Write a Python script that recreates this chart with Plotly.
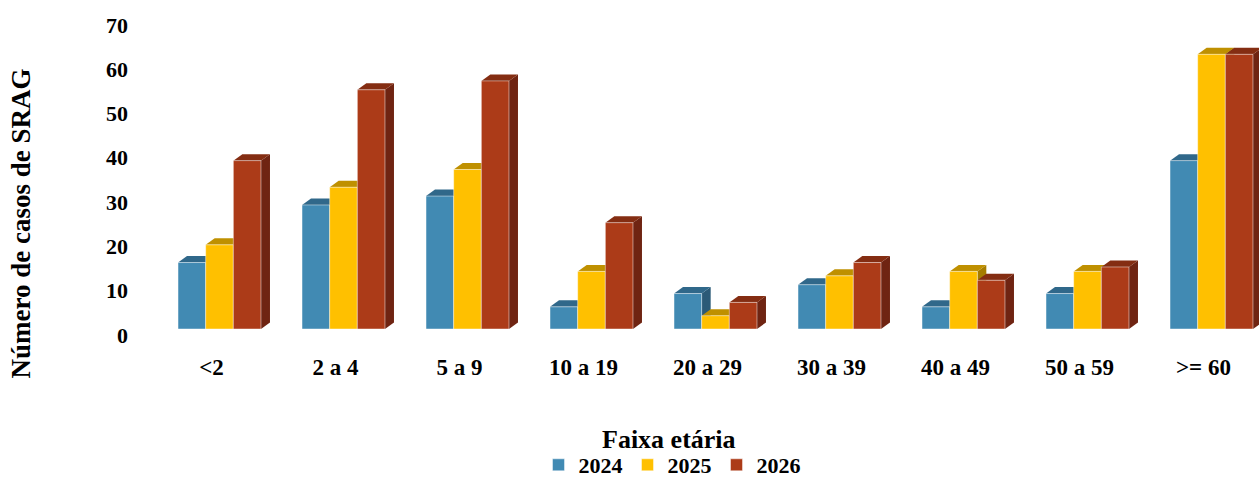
import plotly.graph_objects as go

# Age groups and SRAG case counts per year
faixas = ["<2", "2 a 4", "5 a 9", "10 a 19", "20 a 29", "30 a 39", "40 a 49", "50 a 59", ">= 60"]
casos_2024 = [15, 28, 30, 5, 8, 10, 5, 8, 38]
casos_2025 = [19, 32, 36, 13, 3, 12, 13, 13, 62]
casos_2026 = [38, 54, 56, 24, 6, 15, 11, 14, 62]
anos = ["2024", "2025", "2026"]
y_ticks = [0, 10, 20, 30, 40, 50, 60, 70]

series = [casos_2024, casos_2025, casos_2026]
front_colors = ["#418AB3", "#FFC000", "#AC3B18"]
top_colors = ["#30688A", "#BF9000", "#842D12"]
side_colors = ["#2B5A77", "#A67C00", "#6F2412"]

FONT = "Liberation Serif, Times New Roman, serif"

# layout geometry (pixels)
W, H = 1259, 478
ML, MT, MB = 140, 10, 149
plot_w = W - ML
plot_h = H - MT - MB
px_per_cat = 124.0
y_max = 72.0
px_per_unit = plot_h / y_max
x_start = -(219.5 - ML) / px_per_cat
x_end = x_start + plot_w / px_per_cat

# bar geometry in data units
group_w = 0.669
bar_w = group_w / 3
depth_dx = 9.0 / px_per_cat      # oblique depth, horizontal part
depth_dy = 6.5 / px_per_unit     # oblique depth, vertical part

fig = go.Figure()
x_idx = list(range(len(faixas)))

for k, (ano, vals) in enumerate(zip(anos, series)):
    fig.add_trace(go.Bar(
        x=x_idx, y=vals, name=ano,
        width=bar_w, offset=-group_w / 2 + k * bar_w,
        marker=dict(color=front_colors[k], line=dict(color="rgba(255,255,255,0.45)", width=1)),
        hovertext=[f"{f}: {v}" for f, v in zip(faixas, vals)],
        hoverinfo="text+name",
    ))

# side and top faces for the 3D look, painted left to right under the front faces
shapes = []
for i in x_idx:
    for k, vals in enumerate(series):
        v = vals[i]
        xl = i - group_w / 2 + k * bar_w
        xr = xl + bar_w
        side = (f"M{xr},0 L{xr + depth_dx},{depth_dy} L{xr + depth_dx},{v + depth_dy} "
                f"L{xr},{v} Z")
        top = (f"M{xl},{v} L{xr},{v} L{xr + depth_dx},{v + depth_dy} "
               f"L{xl + depth_dx},{v + depth_dy} Z")
        shapes.append(dict(type="path", path=side, xref="x", yref="y", layer="below",
                           fillcolor=side_colors[k], line=dict(width=0)))
        shapes.append(dict(type="path", path=top, xref="x", yref="y", layer="below",
                           fillcolor=top_colors[k], line=dict(width=0)))


def paper_x(px):
    return (px - ML) / plot_w


def paper_y(py):
    return (H - MB - py) / plot_h


fig.update_layout(
    width=W, height=H,
    margin=dict(l=ML, r=0, t=MT, b=MB, pad=0, autoexpand=False),
    plot_bgcolor="white", paper_bgcolor="white",
    barmode="overlay",
    shapes=shapes,
    font=dict(family=FONT, color="black", weight="bold"),
    xaxis=dict(
        type="linear", range=[x_start, x_end], automargin=False,
        tickmode="array", tickvals=x_idx, ticktext=faixas,
        showgrid=False, zeroline=False, showline=False,
        tickfont=dict(family=FONT, size=23, color="black", weight="bold"),
        ticklabelstandoff=22, ticklabelshift=-8,
    ),
    yaxis=dict(
        range=[0, y_max], tickmode="array", tickvals=y_ticks, automargin=False,
        showgrid=False, zeroline=False, showline=False,
        tickfont=dict(family=FONT, size=22, color="black", weight="bold"),
        ticklabelstandoff=11, ticklabelshift=6,
    ),
    legend=dict(
        orientation="h", xref="container", yref="container",
        x=672 / W, y=(H - 465) / H,
        xanchor="center", yanchor="middle",
        font=dict(family=FONT, size=22, color="black", weight="bold"),
        bgcolor="rgba(0,0,0,0)", traceorder="normal",
        borderwidth=0, tracegroupgap=0,
    ),
    annotations=[
        dict(text="Faixa etária", x=paper_x(669), y=paper_y(439), xref="paper", yref="paper",
             xanchor="center", yanchor="middle", showarrow=False,
             font=dict(family=FONT, size=26, color="black", weight="bold")),
        dict(text="Número de casos de SRAG", x=paper_x(20), y=paper_y(223.5), xref="paper",
             yref="paper", xanchor="center", yanchor="middle", textangle=-90, showarrow=False,
             font=dict(family=FONT, size=27, color="black", weight="bold")),
    ],
    showlegend=True,
)

fig.write_html("out.html")
